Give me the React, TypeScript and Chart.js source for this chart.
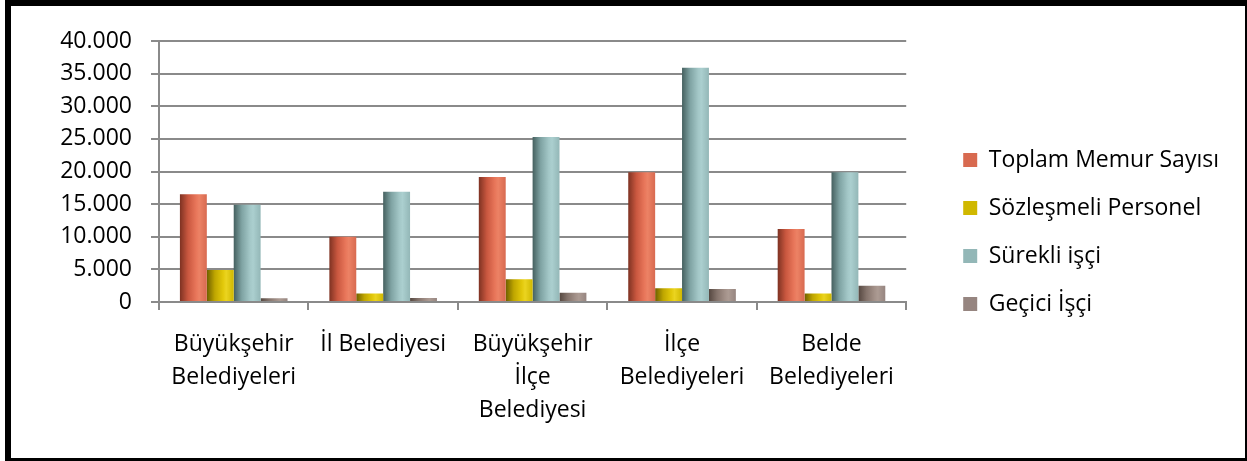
import React, { useEffect, useRef } from "react";
import { Chart, registerables } from "chart.js";

Chart.register(...registerables);

const categories: string[][] = [
  ["Büyükşehir", "Belediyeleri"],
  ["İl Belediyesi"],
  ["Büyükşehir", "İlçe", "Belediyesi"],
  ["İlçe", "Belediyeleri"],
  ["Belde", "Belediyeleri"],
];

const seriesNames = ["Toplam Memur Sayısı", "Sözleşmeli Personel", "Sürekli işçi", "Geçici İşçi"];

const toplamMemur = [16500, 10000, 19150, 19900, 11200];
const sozlesmeliPersonel = [4900, 1300, 3500, 2100, 1300];
const surekliIsci = [14900, 16900, 25300, 35900, 19900];
const geciciIsci = [570, 600, 1400, 2000, 2500];

const yMax = 40000;
const yStep = 5000;

// swatch colour + cylinder gradient stops (dark left -> light -> slightly darker right)
const palette = [
  { solid: "#D4614A", stops: ["#7E3222", "#C9573F", "#E8765A", "#EC8265", "#D86A50"] },
  { solid: "#CCB400", stops: ["#6E5F00", "#BFA600", "#E2C80A", "#EBD420", "#D0B800"] },
  { solid: "#8EB1B1", stops: ["#45605F", "#7FA3A3", "#A3C7C7", "#ABCFCF", "#93B7B7"] },
  { solid: "#8C7A72", stops: ["#554740", "#84736B", "#A39189", "#AC9B93", "#968580"] },
];

const CAT_PCT = 0.72;

function fmt(v: number): string {
  const s = Math.round(v).toString();
  return s.replace(/\B(?=(\d{3})+(?!\d))/g, ".");
}

function barFill(p: (typeof palette)[number]) {
  return (ctx: any) => {
    if (ctx.type !== "data") return p.solid;
    const chart = ctx.chart;
    const xs = chart.scales && chart.scales.x;
    if (!xs || !xs.width) return p.solid;
    const n = chart.data.labels.length;
    const nd = chart.data.datasets.length;
    const center = xs.getPixelForValue(ctx.dataIndex);
    const catW = xs.width / n;
    const groupW = catW * CAT_PCT;
    const barW = groupW / nd;
    const left = center - groupW / 2 + ctx.datasetIndex * barW;
    if (!isFinite(left) || !isFinite(barW) || barW <= 0) return p.solid;
    const g = chart.ctx.createLinearGradient(left, 0, left + barW, 0);
    g.addColorStop(0, p.stops[0]);
    g.addColorStop(0.3, p.stops[1]);
    g.addColorStop(0.6, p.stops[2]);
    g.addColorStop(0.72, p.stops[3]);
    g.addColorStop(1, p.stops[4]);
    return g;
  };
}

export default function App() {
  const ref = useRef<HTMLCanvasElement | null>(null);

  useEffect(() => {
    if (!ref.current) return;
    Chart.defaults.font.family = "'Open Sans', sans-serif";
    Chart.defaults.color = "#000";
    const values = [toplamMemur, sozlesmeliPersonel, surekliIsci, geciciIsci];
    const gridColor = "#8a8a8a";
    const chart = new Chart(ref.current, {
      type: "bar",
      data: {
        labels: categories,
        datasets: values.map((d, i) => ({
          label: seriesNames[i],
          data: d,
          backgroundColor: barFill(palette[i]),
          borderWidth: 0,
          categoryPercentage: CAT_PCT,
          barPercentage: 1,
        })),
      },
      options: {
        responsive: false,
        animation: false,
        layout: { padding: { left: 0, right: 16, top: 35, bottom: 35 } },
        plugins: {
          tooltip: { enabled: false },
          legend: {
            position: "right",
            maxWidth: 400,
            labels: {
              boxWidth: 14,
              boxHeight: 14,
              padding: 25,
              font: { size: 23 },
              color: "#000",
            },
          },
        },
        scales: {
          x: {
            ticks: {
              font: { size: 23, lineHeight: 1.435 },
              padding: 18,
              maxRotation: 0,
              autoSkip: false,
              color: "#000",
            },
            grid: {
              display: true,
              drawOnChartArea: false,
              drawTicks: true,
              tickLength: 8,
              color: gridColor,
              lineWidth: 2,
            },
            border: { display: true, color: gridColor, width: 2 },
            afterFit: (s: any) => {
              s.height = 121;
            },
          },
          y: {
            min: 0,
            max: yMax,
            ticks: {
              stepSize: yStep,
              font: { size: 23 },
              padding: 19,
              color: "#000",
              callback: (v: any) => fmt(Number(v)),
            },
            grid: {
              color: gridColor,
              lineWidth: 2,
              tickLength: 8,
              drawTicks: true,
            },
            border: { display: true, color: gridColor, width: 2 },
            afterFit: (s: any) => {
              s.width = 148;
            },
          },
          spacer: {
            type: "linear",
            position: "right",
            display: true,
            grid: { display: false, drawTicks: false },
            ticks: { display: false },
            border: { display: false },
            afterFit: (s: any) => {
              s.width = 32;
            },
          },
        },
      } as any,
    });
    return () => chart.destroy();
  }, []);

  return (
    <div
      style={{
        position: "fixed",
        left: 5,
        top: 0,
        width: 1242,
        height: 461,
        boxSizing: "border-box",
        borderStyle: "solid",
        borderColor: "#000",
        borderWidth: "6px 2px 3px 6px",
        background: "#fff",
      }}
    >
      <canvas ref={ref} width={1234} height={452} style={{ display: "block" }} />
    </div>
  );
}
